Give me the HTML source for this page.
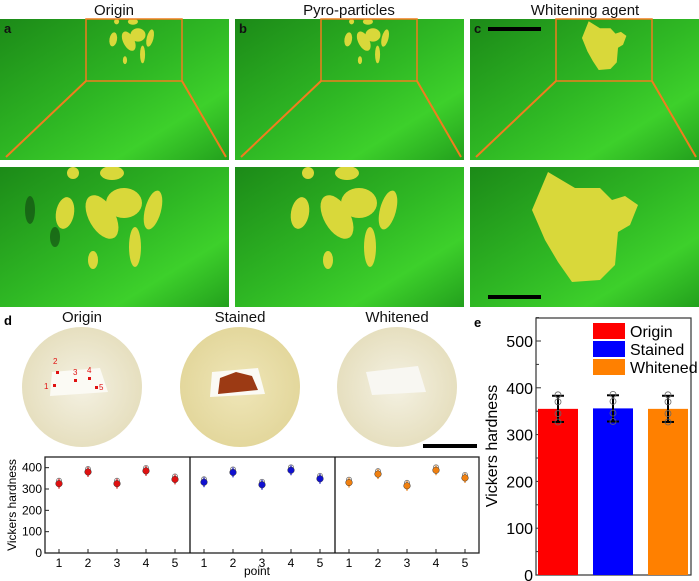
<!DOCTYPE html>
<html><head><meta charset="utf-8"><style>
body{margin:0;background:#fff;width:699px;height:581px;overflow:hidden;font-family:"Liberation Sans",Arial,sans-serif}
svg{display:block}
</style></head><body>
<svg id="s" width="699" height="581" viewBox="0 0 699 581" xmlns="http://www.w3.org/2000/svg" font-family="Liberation Sans, Arial, sans-serif">
<defs>
<linearGradient id="g1" x1="0" y1="0" x2="1" y2="1">
<stop offset="0" stop-color="#1c8a18"/><stop offset="0.5" stop-color="#2fb824"/><stop offset="0.75" stop-color="#3dd02b"/><stop offset="1" stop-color="#23a01d"/></linearGradient>
<radialGradient id="disk" cx="0.5" cy="0.5" r="0.5"><stop offset="0" stop-color="#f4f1e2"/><stop offset="1" stop-color="#e6dfbf"/></radialGradient>
<radialGradient id="disk2" cx="0.5" cy="0.5" r="0.5"><stop offset="0" stop-color="#efe6b8"/><stop offset="1" stop-color="#e3d79c"/></radialGradient>
<g id="blobsA">
<ellipse cx="65" cy="213" rx="9" ry="16" fill="#d9d83a" transform="rotate(10 65 213)"/>
<ellipse cx="102" cy="217" rx="13" ry="24" fill="#d9d83a" transform="rotate(-30 102 217)"/>
<ellipse cx="124" cy="203" rx="18" ry="15" fill="#d9d83a"/>
<ellipse cx="153" cy="210" rx="8" ry="20" fill="#d9d83a" transform="rotate(15 153 210)"/>
<ellipse cx="135" cy="247" rx="6" ry="20" fill="#d9d83a"/>
<ellipse cx="112" cy="173" rx="12" ry="7" fill="#d9d83a"/>
<ellipse cx="73" cy="173" rx="6" ry="6" fill="#d9d83a"/>
<ellipse cx="93" cy="260" rx="5" ry="9" fill="#d9d83a"/>
</g>
<g id="blobC">
<path d="M548 172 L575 188 L600 188 L612 200 L625 196 L638 205 L630 225 L618 232 L615 265 L600 280 L572 282 L558 262 L545 240 L532 210 Z" fill="#d9d83a"/>
</g>
<clipPath id="cA"><rect x="0" y="167" width="229" height="140"/></clipPath>
<clipPath id="cB"><rect x="235" y="167" width="229" height="140"/></clipPath>
<clipPath id="cC"><rect x="470" y="167" width="229" height="140"/></clipPath>
</defs>

<g font-size="15" text-anchor="middle" fill="#111">
<text x="114" y="15">Origin</text>
<text x="349" y="15">Pyro-particles</text>
<text x="585" y="15">Whitening agent</text>
</g>

<g>
<rect x="0" y="19" width="229" height="141" fill="url(#g1)"/>
<rect x="0" y="167" width="229" height="140" fill="url(#g1)"/>
<g clip-path="url(#cA)"><use href="#blobsA"/><ellipse cx="30" cy="210" rx="5" ry="14" fill="#114410" opacity="0.6"/><ellipse cx="55" cy="237" rx="5" ry="10" fill="#114410" opacity="0.6"/></g>
<g transform="translate(86 19) scale(0.419 0.443) translate(0 -167)"><use href="#blobsA"/></g>
<rect x="86" y="19" width="96" height="62" fill="none" stroke="#f07d1e" stroke-width="1.5"/>
<line x1="86" y1="81" x2="6" y2="157" stroke="#f07d1e" stroke-width="2"/>
<line x1="182" y1="81" x2="226" y2="157" stroke="#f07d1e" stroke-width="2"/>
<text x="4" y="33" font-size="13" font-weight="bold" fill="#111">a</text>
</g>
<g>
<rect x="235" y="19" width="229" height="141" fill="url(#g1)"/>
<rect x="235" y="167" width="229" height="140" fill="url(#g1)"/>
<g clip-path="url(#cB)"><use href="#blobsA" transform="translate(235 0)"/></g>
<g transform="translate(321 19) scale(0.419 0.443) translate(0 -167)"><use href="#blobsA"/></g>
<rect x="321" y="19" width="96" height="62" fill="none" stroke="#f07d1e" stroke-width="1.5"/>
<line x1="321" y1="81" x2="241" y2="157" stroke="#f07d1e" stroke-width="2"/>
<line x1="417" y1="81" x2="461" y2="157" stroke="#f07d1e" stroke-width="2"/>
<text x="239" y="33" font-size="13" font-weight="bold" fill="#111">b</text>
</g>
<g>
<rect x="470" y="19" width="229" height="141" fill="url(#g1)"/>
<rect x="470" y="167" width="229" height="140" fill="url(#g1)"/>
<g clip-path="url(#cC)"><use href="#blobC"/></g>
<g transform="translate(556 19) scale(0.419 0.443) translate(-470 -167)"><use href="#blobC"/></g>
<rect x="556" y="19" width="96" height="62" fill="none" stroke="#f07d1e" stroke-width="1.5"/>
<line x1="556" y1="81" x2="476" y2="157" stroke="#f07d1e" stroke-width="2"/>
<line x1="652" y1="81" x2="696" y2="157" stroke="#f07d1e" stroke-width="2"/>
<text x="474" y="33" font-size="13" font-weight="bold" fill="#111">c</text>
<rect x="488" y="27" width="53" height="4" fill="#000"/>
<rect x="488" y="295" width="53" height="4" fill="#000"/>
</g>

<g>
<text x="4" y="325" font-size="13" font-weight="bold">d</text>
<g font-size="15" text-anchor="middle" fill="#111">
<text x="82" y="322">Origin</text><text x="240" y="322">Stained</text><text x="397" y="322">Whitened</text></g>
<circle cx="82" cy="387" r="60" fill="url(#disk)"/>
<circle cx="240" cy="387" r="60" fill="url(#disk2)"/>
<circle cx="397" cy="387" r="60" fill="url(#disk)"/>
<path d="M52 372 L100 368 L108 392 L50 396 Z" fill="#fbfaf4"/>
<path d="M212 372 L258 368 L265 394 L210 397 Z" fill="#fbfaf4"/>
<path d="M220 378 L236 372 L252 376 L258 390 L218 394 Z" fill="#9c3a14"/>
<path d="M366 372 L418 366 L426 392 L372 395 Z" fill="#f8f7f2"/>
<g fill="#e01010" font-size="8"><text x="53" y="364">2</text><rect x="56" y="371" width="3" height="3"/><text x="73" y="375">3</text><rect x="74" y="379" width="3" height="3"/><text x="87" y="373">4</text><rect x="88" y="377" width="3" height="3"/><text x="44" y="389">1</text><rect x="53" y="384" width="3" height="3"/><text x="99" y="390">5</text><rect x="95" y="386" width="3" height="3"/></g>
<rect x="423" y="444" width="54" height="4" fill="#000"/>
</g>

<g id="dchart"></g>
<g id="echart"></g>
</svg>
<script>
var NS="http://www.w3.org/2000/svg";
function mk(p,t,a,txt){var e=document.createElementNS(NS,t);for(var k in a)e.setAttribute(k,a[k]);if(txt!=null)e.textContent=txt;p.appendChild(e);return e;}
// panel d data
var points=[1,2,3,4,5];
var originVals=[325,380,325,385,345];
var stainedVals=[332,378,320,388,348];
var whitenedVals=[330,370,315,388,352];
var dTicks=[0,100,200,300,400];
// panel e data
var groups=["Origin","Stained","Whitened"];
var barVals=[355,356,355];
var barErr=[28,28,28];
var eTicks=[0,100,200,300,400,500];

var d=document.getElementById('dchart');
var dx0=45,dW=145,dy0=553,dTop=457;
function dy(v){return dy0-v*(dy0-dTop)/450;}
function dxp(panel,i){return dx0+14+panel*dW+(i)*29;}
mk(d,'rect',{x:dx0,y:dTop,width:dW*3-1,height:dy0-dTop,fill:'none',stroke:'#222','stroke-width':1.3});
for(var p=1;p<3;p++)mk(d,'line',{x1:dx0+p*dW,y1:dTop,x2:dx0+p*dW,y2:dy0,stroke:'#111','stroke-width':1.3});
dTicks.forEach(function(t){var y=dy(t);mk(d,'line',{x1:dx0,y1:y,x2:dx0+4,y2:y,stroke:'#222'});
var l=mk(d,'text',{x:dx0-3,y:y+4,'font-size':12,'text-anchor':'end'},t);});
var yl=mk(d,'text',{x:0,y:0,'font-size':12,'text-anchor':'middle',transform:'translate(16 505) rotate(-90)'},'Vickers hardness');

var xl=mk(d,'text',{x:257,y:575,'font-size':12,'text-anchor':'middle'},'point');

var sets=[originVals,stainedVals,whitenedVals],cols=['#e01010','#1010d0','#f08010'];
sets.forEach(function(vals,p){points.forEach(function(pt,i){var x=dxp(p,i);
mk(d,'line',{x1:x,y1:dy0,x2:x,y2:dy0-4,stroke:'#222'});
var tl=mk(d,'text',{x:x,y:dy0+14,'font-size':12,'text-anchor':'middle'},pt);
var y=dy(vals[i]);
mk(d,'line',{x1:x,y1:y-5,x2:x,y2:y+5,stroke:cols[p],'stroke-width':1.2});
mk(d,'circle',{cx:x,cy:y-3,r:2.5,fill:'none',stroke:'#777','stroke-width':0.8});
var c=mk(d,'circle',{cx:x,cy:y,r:3.3,fill:cols[p],stroke:'#333','stroke-width':0.5});
});});

var e=document.getElementById('echart');
var ex0=536,ex1=691,ey0=575,eTop=318;
function ey(v){return ey0-v*(ey0-341)/500;}
var barX=[538,593,648],barW=40,bcol=['#ff0000','#0000ff','#ff8000'];
mk(e,'text',{x:474,y:327,'font-size':13,'font-weight':'bold'},'e');
mk(e,'rect',{x:ex0,y:eTop,width:ex1-ex0,height:ey0-eTop,fill:'none',stroke:'#333','stroke-width':1.2});
eTicks.forEach(function(t){var y=ey(t);mk(e,'line',{x1:ex0,y1:y,x2:ex0+5,y2:y,stroke:'#333'});
mk(e,'line',{x1:ex0,y1:ey(t+50),x2:ex0+3,y2:ey(t+50),stroke:'#333'});
var l=mk(e,'text',{x:ex0-3,y:y+6,'font-size':16,'text-anchor':'end'},t);});
var et=mk(e,'text',{x:0,y:0,'font-size':16,'text-anchor':'middle',transform:'translate(497 446) rotate(-90)'},'Vickers hardness');

groups.forEach(function(g,i){var x=barX[i],y=ey(barVals[i]);
var b=mk(e,'rect',{x:x,y:y,width:barW,height:ey0-y,fill:bcol[i]});
var cx=x+barW/2,hi=ey(barVals[i]+barErr[i]),lo=ey(barVals[i]-barErr[i]);
mk(e,'line',{x1:cx,y1:hi,x2:cx,y2:lo,stroke:'#000','stroke-width':2});
mk(e,'line',{x1:cx-6,y1:hi,x2:cx+6,y2:hi,stroke:'#000','stroke-width':2});
mk(e,'line',{x1:cx-6,y1:lo,x2:cx+6,y2:lo,stroke:'#000','stroke-width':2});
[barVals[i]+30,barVals[i]+15,barVals[i]-10,barVals[i]-28].forEach(function(v){mk(e,'circle',{cx:cx,cy:ey(v),r:3,fill:'none',stroke:'#666','stroke-width':0.8});});
var ly=323+i*18;
var sw=mk(e,'rect',{x:593,y:ly,width:32,height:16,fill:bcol[i]});
var lt=mk(e,'text',{x:630,y:ly+14,'font-size':16},g);});
</script>
</body></html>
